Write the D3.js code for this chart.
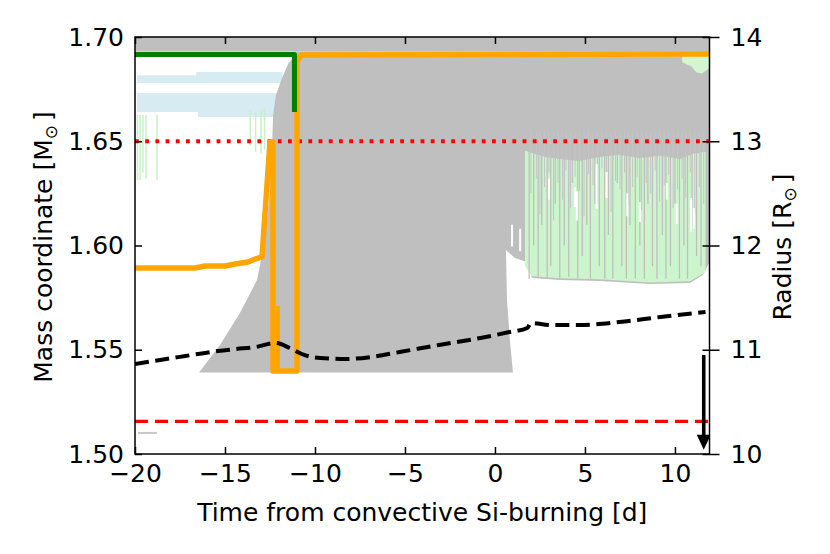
<!DOCTYPE html>
<html>
<head>
<meta charset="utf-8">
<script src="https://cdn.jsdelivr.net/npm/d3@7"></script>
<style>
  body { margin: 0; background: #fff; }
  text { font-family: "DejaVu Sans", sans-serif; fill: #000; }
</style>
</head>
<body>
<div id="chart"></div>
<script>
// ticks
var timeTicks = [-20, -15, -10, -5, 0, 5, 10];
var massTicks = [1.50, 1.55, 1.60, 1.65, 1.70];
var radiusTicks = [10, 11, 12, 13, 14];

// convective Si-burning zone outline (time [d], mass [Msun])
var convT = [-16.44, -15.28, -14.17, -13.22, -12.78, -12.5, -12.39, -12.33, -12.17, -11.83, -11.5, -11.11, -11.11, 11.92, 11.92, 11.56, 10.83, 8.61, 5.83, 3.61, 2.06, 1.78, 1.11, 0.61, 0.67, 0.83, 1.0];
var convM = [1.5391, 1.5523, 1.5676, 1.5835, 1.6026, 1.6266, 1.6458, 1.6626, 1.6722, 1.6803, 1.6871, 1.6914, 1.693, 1.693, 1.5921, 1.5859, 1.5820, 1.5815, 1.5830, 1.5835, 1.5844, 1.5921, 1.5940, 1.5978, 1.5739, 1.5547, 1.5391];
// outer convective shell at the top
var shellTopM = [1.693, 1.70];

// overshoot / mixing (light green) region after Si ignition
var mixT = [1.67, 2.2, 2.8, 3.6, 4.7, 5.8, 6.9, 8.0, 9.2, 10.3, 11.0, 11.7, 11.7, 11.56, 10.83, 8.61, 5.83, 3.61, 2.06, 1.67];
var mixM = [1.6455, 1.6440, 1.6425, 1.6415, 1.6405, 1.6425, 1.6435, 1.6420, 1.6430, 1.6415, 1.6440, 1.6450, 1.5875, 1.5865, 1.5828, 1.5823, 1.5838, 1.5843, 1.5852, 1.5900];
var mixTopT = [10.4, 11.9, 11.9, 11.5, 11.2, 10.9, 10.6, 10.4];
var mixTopM = [1.6912, 1.6912, 1.6850, 1.6825, 1.6830, 1.6860, 1.6870, 1.6880];

// convective streaks inside the mixing region
var streakT = [1.9, 2.15, 2.4, 2.6, 2.9, 3.1, 3.35, 3.6, 3.85, 4.1, 4.3, 4.6, 4.85, 5.1, 5.3, 5.55, 5.8, 6.1, 6.3, 6.55, 6.8, 7.05, 7.3, 7.5, 7.8, 8.05, 8.3, 8.5, 8.75, 9.0, 9.3, 9.5, 9.75, 10.0, 10.25, 10.5, 10.7, 10.95, 11.2, 11.45];
var streakBot = [1.584, 1.600, 1.585, 1.610, 1.584, 1.590, 1.620, 1.584, 1.600, 1.585, 1.630, 1.584, 1.595, 1.610, 1.584, 1.620, 1.590, 1.584, 1.605, 1.584, 1.630, 1.590, 1.584, 1.610, 1.584, 1.600, 1.584, 1.620, 1.590, 1.584, 1.605, 1.584, 1.590, 1.620, 1.584, 1.600, 1.584, 1.610, 1.595, 1.590];
var streak2T = [2.0, 2.3, 2.5, 2.75, 3.0, 3.25, 3.5, 3.75, 3.95, 4.2, 4.45, 4.7, 4.95, 5.2, 5.45, 5.7, 5.95, 6.2, 6.45, 6.7, 6.95, 7.2, 7.4, 7.65, 7.9, 8.15, 8.4, 8.65, 8.9, 9.15, 9.4, 9.65, 9.9, 10.15, 10.4, 10.6, 10.85, 11.1, 11.35, 11.6];
var streak2Bot = [1.625, 1.632, 1.615, 1.628, 1.635, 1.612, 1.630, 1.622, 1.636, 1.618, 1.633, 1.626, 1.614, 1.634, 1.629, 1.620, 1.637, 1.624, 1.616, 1.631, 1.627, 1.635, 1.619, 1.628, 1.633, 1.617, 1.630, 1.625, 1.636, 1.621, 1.629, 1.634, 1.618, 1.627, 1.632, 1.623, 1.635, 1.615, 1.628, 1.620];

// radiative gaps
var gapT = [0.95, 1.4, 3.0, 4.45, 4.55, 5.65, 6.2, 7.35, 8.05, 9.55, 10.1, 10.9, 11.05];
var gapTop = [1.6100, 1.6080, 1.6320, 1.6281, 1.6260, 1.6391, 1.6353, 1.6250, 1.6209, 1.6300, 1.6200, 1.6228, 1.6180];
var gapBot = [1.5995, 1.5972, 1.6220, 1.6185, 1.6120, 1.6175, 1.6228, 1.6140, 1.6113, 1.6220, 1.6103, 1.6065, 1.6080];

// earlier O-shell zones (light blue)
var oShell1T = [-19.89, -16.6, -16.6, -11.8, -11.8, -19.89];
var oShell1M = [1.6817, 1.6817, 1.6832, 1.6832, 1.6779, 1.6779];
var oShell2T = [-19.89, -11.9, -11.9, -16.5, -16.5, -19.89];
var oShell2M = [1.6731, 1.6731, 1.6616, 1.6616, 1.6640, 1.6640];

// short mixing episodes before ignition
var earlyT = [-19.86, -19.72, -19.56, -19.39, -18.78, -13.6, -13.3, -13.0, -12.8];
var earlyTop = [1.6626, 1.6626, 1.6626, 1.6626, 1.6626, 1.6650, 1.6640, 1.6650, 1.6660];
var earlyBot = [1.6314, 1.6314, 1.6350, 1.6320, 1.6314, 1.6480, 1.6450, 1.6440, 1.6460];

var smallT = [-19.83, -18.78];
var smallM = 1.5101;

// Si core / shell boundaries
var coreT = [-20, -16.667, -16.111, -15.0, -14.444, -13.722, -13.333, -12.944, -12.5, -12.333, -12.333, -11.0, -11.0, -10.778, 11.92];
var coreM = [1.5892, 1.5892, 1.5902, 1.5902, 1.5911, 1.5921, 1.5935, 1.5945, 1.6496, 1.6496, 1.5398, 1.5398, 1.6880, 1.6914, 1.6918];
var spikeT = [-12.06, -12.06];
var spikeM = [1.5398, 1.5710];
var shellT = [-20, -11.14, -11.14];
var shellM = [1.6916, 1.6916, 1.6640];

var redDotM = 1.65;
var redDashM = 1.5156;

// stellar radius (right axis)
var radT = [-20, -18.6, -17.2, -15.8, -14.4, -13.3, -12.2, -11.4, -10.6, -9.7, -8.3, -6.9, -5.3, -3.1, -0.8, 0.8, 1.8, 2.0, 3.1, 4.7, 6.9, 9.2, 11.7];
var radR = [10.863, 10.902, 10.940, 10.978, 11.007, 11.026, 11.065, 11.017, 10.950, 10.921, 10.911, 10.930, 10.978, 11.046, 11.113, 11.170, 11.209, 11.257, 11.237, 11.237, 11.266, 11.314, 11.362];

var arrowT = 11.6;
var arrowR = [10.95, 10.04];

var width = 830, height = 554;
var x0 = 135, x1 = 709.5, y0 = 37, y1 = 454;

var x = d3.scaleLinear().domain([-20, 11.92]).range([x0, x1]);
var y = d3.scaleLinear().domain([1.5, 1.7]).range([y1, y0]);
var yR = d3.scaleLinear().domain([10, 14]).range([y1, y0]);

var svg = d3.select('#chart').append('svg')
  .attr('width', width)
  .attr('height', height);

svg.append('defs').append('clipPath').attr('id', 'plot')
  .append('rect')
  .attr('x', x0).attr('y', y0)
  .attr('width', x1 - x0).attr('height', y1 - y0);

var g = svg.append('g').attr('clip-path', 'url(#plot)');

var line = d3.line()
  .x(function(d) { return x(d[0]); })
  .y(function(d) { return y(d[1]); });

function poly(ts, ms, fill) {
  g.append('path')
    .attr('d', line(d3.zip(ts, ms)) + 'Z')
    .attr('fill', fill)
    .attr('stroke', 'none');
}

function bars(ts, tops, bots, color, w) {
  g.append('g').selectAll('line')
    .data(d3.range(ts.length))
    .enter().append('line')
    .attr('x1', function(i) { return x(ts[i]); })
    .attr('x2', function(i) { return x(ts[i]); })
    .attr('y1', function(i) { return y(typeof tops === 'number' ? tops : tops[i]); })
    .attr('y2', function(i) { return y(bots[i]); })
    .attr('stroke', color)
    .attr('stroke-width', w);
}

// light blue shells and early streaks
poly(oShell1T, oShell1M, '#d6ebf2');
poly(oShell2T, oShell2M, '#d6ebf2');
bars(earlyT, earlyTop, earlyBot, '#c6f2c6', 1.5);

g.append('line')
  .attr('x1', x(smallT[0])).attr('x2', x(smallT[1]))
  .attr('y1', y(smallM)).attr('y2', y(smallM))
  .attr('stroke', '#c8c8c8').attr('stroke-width', 2);

// gray convective zones
g.append('rect')
  .attr('x', x0).attr('width', x1 - x0)
  .attr('y', y(shellTopM[1])).attr('height', y(shellTopM[0]) - y(shellTopM[1]))
  .attr('fill', '#bfbfbf');
poly(convT, convM, '#bfbfbf');

// mixing region
poly(mixT, mixM, '#cdf5cd');
poly(mixTopT, mixTopM, '#d2f5d2');
bars(streakT, 1.655, streakBot, '#bfbfbf', 1.3);
bars(streak2T, 1.655, streak2Bot, '#c4c4c4', 1);
bars(gapT, gapTop, gapBot, '#ffffff', 2);

// reference lines
g.append('line')
  .attr('x1', x0).attr('x2', x1)
  .attr('y1', y(redDotM)).attr('y2', y(redDotM))
  .attr('stroke', 'red').attr('stroke-width', 3.8)
  .attr('stroke-dasharray', '3.8,6.4');
g.append('line')
  .attr('x1', x0).attr('x2', x1)
  .attr('y1', y(redDashM)).attr('y2', y(redDashM))
  .attr('stroke', 'red').attr('stroke-width', 3.3)
  .attr('stroke-dasharray', '13,7');

// core boundary
g.append('path')
  .attr('d', line(d3.zip(coreT, coreM)))
  .attr('fill', 'none').attr('stroke', 'orange')
  .attr('stroke-width', 5.5).attr('stroke-linejoin', 'round');
g.append('path')
  .attr('d', line(d3.zip(spikeT, spikeM)))
  .attr('fill', 'none').attr('stroke', 'orange')
  .attr('stroke-width', 4);

g.append('path')
  .attr('d', line(d3.zip(shellT, shellM)))
  .attr('fill', 'none').attr('stroke', 'green')
  .attr('stroke-width', 5).attr('stroke-linejoin', 'round');

// radius
var rline = d3.line()
  .x(function(d) { return x(d[0]); })
  .y(function(d) { return yR(d[1]); })
  .curve(d3.curveMonotoneX);
g.append('path')
  .attr('d', rline(d3.zip(radT, radR)))
  .attr('fill', 'none').attr('stroke', 'black')
  .attr('stroke-width', 4).attr('stroke-dasharray', '14,6.5');

// arrow
var ax = x(arrowT), ay0 = yR(arrowR[0]), ay1 = yR(arrowR[1]);
g.append('path')
  .attr('d', 'M' + (ax - 1.8) + ',' + ay0 + 'L' + (ax + 1.8) + ',' + ay0 +
    'L' + (ax + 1.8) + ',' + (ay1 - 15) + 'L' + (ax + 7) + ',' + (ay1 - 15) +
    'L' + ax + ',' + ay1 + 'L' + (ax - 7) + ',' + (ay1 - 15) +
    'L' + (ax - 1.8) + ',' + (ay1 - 15) + 'Z')
  .attr('fill', 'black');

// axes
var fs = 25;
function style(sel) {
  sel.select('.domain').remove();
  sel.selectAll('line').attr('stroke', '#000').attr('stroke-width', 1.5);
  sel.selectAll('text').style('font-size', fs + 'px').attr('fill', '#000');
}

svg.append('g').attr('transform', 'translate(0,' + y1 + ')')
  .call(d3.axisBottom(x).tickValues(timeTicks).tickSize(-7).tickPadding(10))
  .call(style);
svg.append('g').attr('transform', 'translate(0,' + y0 + ')')
  .call(d3.axisTop(x).tickValues(timeTicks).tickSize(-7).tickFormat(''))
  .call(style);
svg.append('g').attr('transform', 'translate(' + x0 + ',0)')
  .call(d3.axisLeft(y).tickValues(massTicks).tickSize(-7).tickPadding(11).tickFormat(d3.format('.2f')))
  .call(style);
svg.append('g').attr('transform', 'translate(' + x1 + ',0)')
  .call(d3.axisRight(y).tickValues(massTicks).tickSize(-7).tickFormat(''))
  .call(style);
svg.append('g').attr('transform', 'translate(' + x1 + ',0)')
  .call(d3.axisRight(yR).tickValues(radiusTicks).tickSize(10).tickPadding(11).tickFormat(d3.format('d')))
  .call(style);

svg.append('rect')
  .attr('x', x0).attr('y', y0)
  .attr('width', x1 - x0).attr('height', y1 - y0)
  .attr('fill', 'none').attr('stroke', '#000').attr('stroke-width', 1.5);

// labels
svg.append('text')
  .attr('x', (x0 + x1) / 2).attr('y', 521)
  .attr('text-anchor', 'middle')
  .style('font-size', fs + 'px')
  .text('Time from convective Si-burning [d]');

var yl = svg.append('text')
  .attr('transform', 'translate(52,247) rotate(-90)')
  .attr('text-anchor', 'middle')
  .style('font-size', fs + 'px');
yl.append('tspan').text('Mass coordinate [M');
yl.append('tspan').attr('dy', 5).style('font-size', '17px').text('\u2299');
yl.append('tspan').attr('dy', -5).attr('dx', 4).text(']');

var rl = svg.append('text')
  .attr('transform', 'translate(791,247) rotate(-90)')
  .attr('text-anchor', 'middle')
  .style('font-size', fs + 'px');
rl.append('tspan').text('Radius [R');
rl.append('tspan').attr('dy', 5).style('font-size', '17px').text('\u2299');
rl.append('tspan').attr('dy', -5).attr('dx', 4).text(']');
</script>
</body>
</html>
